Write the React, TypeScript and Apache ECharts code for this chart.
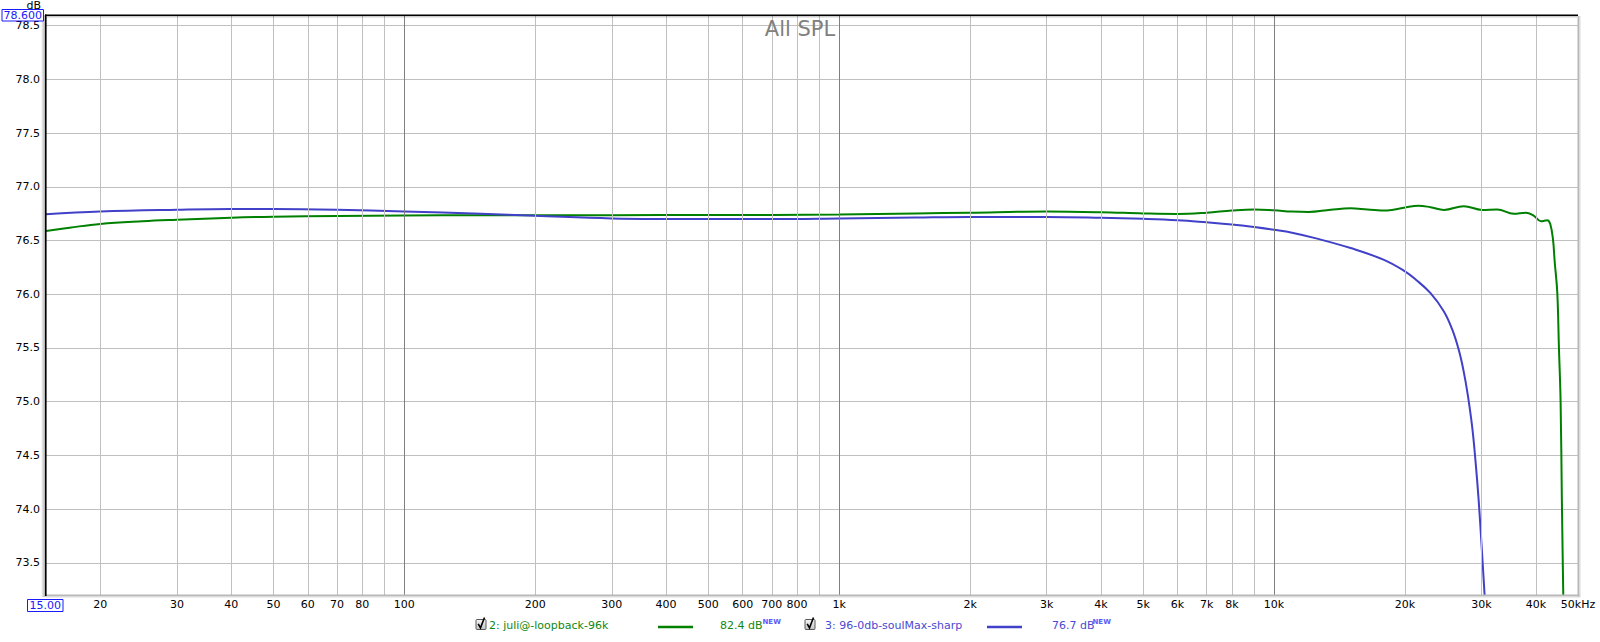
import React, { useEffect, useRef } from "react";
import * as echarts from "echarts";

// ---------- data ----------
const SERIES_NAMES = ["2: juli@-loopback-96k", "3: 96-0db-soulMax-sharp"];
const SERIES_LEVELS = ["82.4 dB", "76.7 dB"];
const SERIES_COLORS = ["#008000", "#4040c8"];
const LEGEND_TEXT_COLORS = ["#118811", "#4a4ad0"];

const GREEN_FREQ = [
  15, 17, 20, 25, 30, 40, 50, 70, 100, 150, 200, 300, 500, 700, 1000, 1500, 2000, 3000, 4000, 5000,
  6000, 7000, 8000, 9000, 10000, 11000, 12000, 13500, 15000, 16400, 18200, 19900, 21500, 22900,
  24600, 27300, 30100, 32600, 35600, 37900, 39600, 41100, 42500, 43200, 43800, 44200, 44800,
  45200, 45600, 45900, 46250, 46700,
];
const GREEN_DB = [
  76.59, 76.62, 76.655, 76.68, 76.694, 76.713, 76.722, 76.729, 76.734, 76.735, 76.735, 76.736,
  76.738, 76.739, 76.742, 76.752, 76.76, 76.77, 76.764, 76.753, 76.748, 76.76, 76.78, 76.79,
  76.782, 76.77, 76.766, 76.787, 76.8, 76.79, 76.78, 76.806, 76.825, 76.81, 76.785, 76.82,
  76.785, 76.79, 76.75, 76.76, 76.73, 76.68, 76.69, 76.65, 76.51, 76.3, 76.02, 75.5, 75.0,
  74.1, 73.2, 72.2,
];

const BLUE_FREQ = [
  15, 20, 30, 40, 50, 70, 100, 150, 200, 300, 500, 700, 1000, 1500, 2000, 3000, 4000, 5000, 6000,
  7000, 8000, 9000, 10000, 11000, 12500, 15000, 17900, 20000, 21200, 22900, 24580, 25700, 26600,
  27300, 27900, 28560, 29070, 29540, 30000, 30480, 30970,
];
const BLUE_DB = [
  76.745, 76.77, 76.787, 76.794, 76.794, 76.787, 76.77, 76.75, 76.731, 76.706, 76.7, 76.7, 76.706,
  76.715, 76.72, 76.72, 76.713, 76.703, 76.69, 76.67, 76.65, 76.626, 76.6, 76.573, 76.52, 76.43,
  76.32, 76.213, 76.135, 76.01, 75.84, 75.67, 75.48, 75.28, 75.06, 74.76, 74.44, 74.09, 73.67,
  73.21, 72.74,
];

const X_MIN = 15;
const X_MAX = 50000;
const Y_MIN = 73.2;
const Y_MAX = 78.6;

const X_GRID_MINOR = [
  20, 30, 40, 50, 60, 70, 80, 90, 200, 300, 400, 500, 600, 700, 800, 900, 2000, 3000, 4000, 5000,
  6000, 7000, 8000, 9000, 20000, 30000, 40000,
];
const X_GRID_MAJOR = [100, 1000, 10000];
const X_LABEL_VALUES = [
  20, 30, 40, 50, 60, 70, 80, 100, 200, 300, 400, 500, 600, 700, 800, 1000, 2000, 3000, 4000, 5000,
  6000, 7000, 8000, 10000, 20000, 30000, 40000, 49999,
];
const X_LABEL_TEXTS = [
  "20", "30", "40", "50", "60", "70", "80", "100", "200", "300", "400", "500", "600", "700", "800",
  "1k", "2k", "3k", "4k", "5k", "6k", "7k", "8k", "10k", "20k", "30k", "40k", "50kHz",
];

const FONT = "DejaVu Sans";

export default function App() {
  const ref = useRef<HTMLDivElement>(null);

  useEffect(() => {
    if (!ref.current) return;
    const chart = echarts.init(ref.current, null, { renderer: "svg" });

    const green = GREEN_FREQ.map((f, i) => [f, GREEN_DB[i]]);
    const blue = BLUE_FREQ.map((f, i) => [f, BLUE_DB[i]]);

    const allX = Array.from(new Set([...X_GRID_MINOR, ...X_GRID_MAJOR, ...X_LABEL_VALUES])).sort(
      (a, b) => a - b
    );
    const markData = allX.map((v) => {
      const li = X_LABEL_VALUES.indexOf(v);
      const isMajor = X_GRID_MAJOR.includes(v);
      const isMinor = X_GRID_MINOR.includes(v);
      const visible = isMajor || isMinor;
      return {
        xAxis: v,
        lineStyle: {
          color: visible ? (isMajor ? "#808080" : "#c0c0c0") : "rgba(255,255,255,0)",
          width: visible ? 1 : 0,
          type: "solid",
        },
        label: {
          show: li >= 0,
          position: "start",
          formatter: li >= 0 ? X_LABEL_TEXTS[li] : "",
          color: "#000",
          fontSize: 11,
          fontFamily: FONT,
          distance: 4,
        },
      };
    });

    const legendGraphics: any[] = [];
    const items = [
      { cb: 476, text: 489, l1: 658, l2: 693, lvl: 720, nw: 762.5 },
      { cb: 805, text: 825, l1: 987, l2: 1022, lvl: 1052, nw: 1092.5 },
    ];
    items.forEach((p, i) => {
      legendGraphics.push(
        {
          type: "rect",
          shape: { x: p.cb, y: 619.5, width: 10, height: 10, r: 1 },
          style: {
            fill: new echarts.graphic.LinearGradient(0, 0, 0, 1, [
              { offset: 0, color: "#f6f6f6" },
              { offset: 1, color: "#c4c4c4" },
            ]),
            stroke: "#5a5a5a",
            lineWidth: 1,
          },
        },
        {
          type: "polyline",
          shape: { points: [[p.cb + 2.2, 623.8], [p.cb + 4.5, 627.8], [p.cb + 8.5, 617.5]] },
          style: { stroke: "#000", lineWidth: 1.6, fill: "none" },
        },
        {
          type: "text",
          x: p.text,
          y: 625.5,
          style: {
            text: SERIES_NAMES[i],
            fill: LEGEND_TEXT_COLORS[i],
            font: `11px "${FONT}"`,
            verticalAlign: "middle",
            align: "left",
          },
        },
        {
          type: "line",
          shape: { x1: p.l1, y1: 627, x2: p.l2, y2: 627 },
          style: { stroke: SERIES_COLORS[i], lineWidth: 2.5 },
        },
        {
          type: "text",
          x: p.lvl,
          y: 625.5,
          style: {
            text: SERIES_LEVELS[i],
            fill: LEGEND_TEXT_COLORS[i],
            font: `11px "${FONT}"`,
            verticalAlign: "middle",
            align: "left",
          },
        },
        {
          type: "text",
          x: p.nw,
          y: 622,
          style: {
            text: "NEW",
            fill: "#5a5aff",
            font: `bold 7px "${FONT}"`,
            verticalAlign: "middle",
            align: "left",
          },
        }
      );
    });

    const frame: any[] = [
      {
        type: "rect",
        z: 100,
        shape: { x: 41, y: 15, width: 4.5, height: 582 },
        style: {
          fill: new echarts.graphic.LinearGradient(1, 0, 0, 0, [
            { offset: 0, color: "rgba(0,0,0,0.35)" },
            { offset: 1, color: "rgba(0,0,0,0)" },
          ]),
        },
      },
      {
        type: "rect",
        z: 100,
        shape: { x: 47, y: 16, width: 1530, height: 2.5 },
        style: {
          fill: new echarts.graphic.LinearGradient(0, 0, 0, 1, [
            { offset: 0, color: "rgba(0,0,0,0.25)" },
            { offset: 1, color: "rgba(0,0,0,0)" },
          ]),
        },
      },
      { type: "rect", z: 101, shape: { x: 45, y: 14.5, width: 1.6, height: 581.5 }, style: { fill: "#000" } },
      { type: "rect", z: 101, shape: { x: 45, y: 14.5, width: 1533, height: 1.6 }, style: { fill: "#000" } },
      { type: "rect", z: 100, shape: { x: 46, y: 594.5, width: 1534, height: 2 }, style: { fill: "#b8b8b8" } },
      { type: "rect", z: 100, shape: { x: 46, y: 596.5, width: 1534, height: 1 }, style: { fill: "#dcdcdc" } },
      { type: "rect", z: 100, shape: { x: 1577.5, y: 16, width: 2, height: 580.5 }, style: { fill: "#b8b8b8" } },
      { type: "rect", z: 100, shape: { x: 1579.5, y: 16, width: 1, height: 581.5 }, style: { fill: "#dcdcdc" } },
      {
        type: "text",
        x: 41,
        y: 5,
        style: { text: "dB", fill: "#000", font: `11px "${FONT}"`, align: "right", verticalAlign: "middle" },
      },
      {
        type: "rect",
        z: 102,
        shape: { x: 2, y: 9.5, width: 41.5, height: 11.5 },
        style: { fill: "#fff", stroke: "#1a1aff", lineWidth: 1 },
      },
      {
        type: "text",
        z: 103,
        x: 22.7,
        y: 15.5,
        style: {
          text: Y_MAX.toFixed(3),
          fill: "#1a1aff",
          font: `11px "${FONT}"`,
          align: "center",
          verticalAlign: "middle",
        },
      },
      {
        type: "rect",
        z: 102,
        shape: { x: 27.5, y: 599.5, width: 35.5, height: 12 },
        style: { fill: "#fff", stroke: "#1a1aff", lineWidth: 1 },
      },
      {
        type: "text",
        z: 103,
        x: 45.3,
        y: 605.7,
        style: {
          text: X_MIN.toFixed(2),
          fill: "#1a1aff",
          font: `11px "${FONT}"`,
          align: "center",
          verticalAlign: "middle",
        },
      },
    ];

    chart.setOption({
      animation: false,
      backgroundColor: "#fff",
      title: {
        text: "All SPL",
        left: "center",
        top: 13,
        textStyle: { color: "#808080", fontSize: 21, fontWeight: "normal", fontFamily: FONT },
      },
      grid: { left: 46, right: 22, top: 15, bottom: 47, containLabel: false },
      xAxis: {
        type: "log",
        logBase: 10,
        min: X_MIN,
        max: X_MAX,
        axisLine: { show: false },
        axisTick: { show: false },
        axisLabel: { show: false },
        splitLine: { show: false },
        minorTick: { show: false },
      },
      yAxis: {
        type: "value",
        min: Y_MIN,
        max: Y_MAX,
        splitNumber: 10,
        axisLine: { show: false },
        axisTick: { show: false },
        axisLabel: {
          color: "#000",
          fontSize: 11,
          fontFamily: FONT,
          margin: 6,
          showMinLabel: false,
          showMaxLabel: false,
          formatter: (v: number) => v.toFixed(1),
        },
        splitLine: { show: true, lineStyle: { color: "#c0c0c0", width: 1 } },
      },
      series: [
        {
          name: "grid",
          type: "line",
          z: 1,
          data: [[X_MIN, Y_MIN]],
          showSymbol: false,
          symbol: "none",
          lineStyle: { opacity: 0 },
          silent: true,
          markLine: {
            silent: true,
            symbol: ["none", "none"],
            animation: false,
            data: markData,
          },
        },
        {
          name: SERIES_NAMES[0],
          type: "line",
          z: 3,
          data: green,
          showSymbol: false,
          symbol: "none",
          smooth: 0.4,
          lineStyle: { color: SERIES_COLORS[0], width: 2 },
          itemStyle: { color: SERIES_COLORS[0] },
        },
        {
          name: SERIES_NAMES[1],
          type: "line",
          z: 3,
          data: blue,
          showSymbol: false,
          symbol: "none",
          smooth: 0.4,
          lineStyle: { color: SERIES_COLORS[1], width: 2 },
          itemStyle: { color: SERIES_COLORS[1] },
        },
      ],
      graphic: [...frame, ...legendGraphics],
    });

    return () => chart.dispose();
  }, []);

  return (
    <div
      ref={ref}
      style={{ position: "fixed", left: 0, top: 0, width: 1600, height: 642, background: "#fff" }}
    />
  );
}
